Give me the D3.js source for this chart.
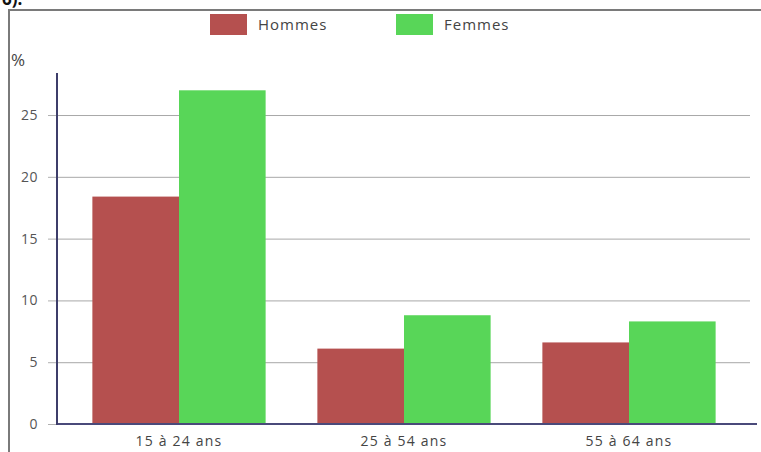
<!DOCTYPE html>
<html lang="fr">
<head>
<meta charset="UTF-8">
<title>Chômage par âge et sexe</title>
<style>
  body { margin: 0; background: #fff; }
  svg { display: block; font-family: "Open Sans", sans-serif; }
</style>
</head>
<body>
<div id="graphique"></div>
<script src="https://d3js.org/d3.v7.min.js"></script>
<script>

// données
let categories = ['15 à 24 ans', '25 à 54 ans', '55 à 64 ans'];
let series     = ['Hommes', 'Femmes'];
let hommes     = [18.4, 6.1, 6.6];
let femmes     = [27.0, 8.8, 8.3];
let yTicks     = [0, 5, 10, 15, 20, 25];
let couleurs   = ['#b5504f', '#58d658'];

let width = 761, height = 452;

let svg = d3.select('#graphique')
            .append('svg')
            .attr('width', width)
            .attr('height', height);

// bout de texte coupé en haut (comme dans l'original)
svg.append('text')
   .attr('x', 2).attr('y', 5)
   .attr('font-size', 17)
   .attr('font-weight', 'bold')
   .attr('fill', '#111')
   .text('6).');

// cadre
svg.append('path')
   .attr('d', 'M9,452 V10 H761')
   .attr('fill', 'none')
   .attr('stroke', '#7a7a7a')
   .attr('stroke-width', 2);

// echelles
let y = d3.scaleLinear()
          .domain([0, 28.4])
          .range([424, 73]);

let x0 = d3.scaleBand()
           .domain(categories)
           .range([66.5, 741.5])
           .paddingInner(0.23)
           .paddingOuter(0.115);

let x1 = d3.scaleBand()
           .domain(series)
           .range([0, x0.bandwidth()]);

// grille + graduations Y
let axeY = d3.axisLeft(y)
             .tickValues(yTicks)
             .tickSize(9)
             .tickPadding(10);

let gY = svg.append('g')
            .attr('transform', 'translate(57,0)')
            .call(axeY);
gY.select('.domain').remove();
gY.selectAll('line').attr('stroke', '#b0b0b0');
gY.selectAll('text')
  .attr('fill', '#555')
  .style('font-size', '14px')
  .style('letter-spacing', '0.5px')
  .style('font-family', '"Open Sans", sans-serif');

svg.append('g')
   .selectAll('line')
   .data(yTicks.filter(d => d > 0))
   .enter()
   .append('line')
   .attr('x1', 57).attr('x2', 750)
   .attr('y1', d => y(d) + 0.5).attr('y2', d => y(d) + 0.5)
   .attr('stroke', '#a8a8a8');

// barres
let groupes = svg.append('g')
   .selectAll('g')
   .data(categories)
   .enter()
   .append('g')
   .attr('transform', d => `translate(${x0(d)},0)`);

groupes.selectAll('rect')
   .data((d, i) => [
       { s: 'Hommes', v: hommes[i], c: couleurs[0] },
       { s: 'Femmes', v: femmes[i], c: couleurs[1] }
   ])
   .enter()
   .append('rect')
   .attr('x', d => x1(d.s))
   .attr('width', x1.bandwidth())
   .attr('y', d => y(d.v))
   .attr('height', d => y(0) - y(d.v))
   .attr('fill', d => d.c);

// axe X
let axeX = d3.axisBottom(x0).tickSize(0).tickPadding(12);
let gX = svg.append('g')
            .attr('transform', 'translate(0,424)')
            .call(axeX);
gX.select('.domain').remove();
gX.selectAll('text')
  .attr('fill', '#444')
  .style('font-size', '14px')
  .style('letter-spacing', '1.2px')
  .style('font-family', '"Open Sans", sans-serif');

svg.append('line')
   .attr('x1', 57).attr('x2', 757)
   .attr('y1', 424).attr('y2', 424)
   .attr('stroke', '#4a4a7a')
   .attr('stroke-width', 2);

svg.append('line')
   .attr('x1', 57).attr('x2', 57)
   .attr('y1', 73).attr('y2', 425)
   .attr('stroke', '#3d3d6a')
   .attr('stroke-width', 2);

// unité
svg.append('text')
   .attr('x', 11).attr('y', 66)
   .attr('fill', '#444')
   .style('font-size', '17px')
   .style('letter-spacing', '1px')
   .text('%');

// légende
let leg = svg.append('g')
   .selectAll('g')
   .data(series)
   .enter()
   .append('g')
   .attr('transform', (d, i) => `translate(${[210, 396][i]},14)`);

leg.append('rect')
   .attr('width', 37).attr('height', 21)
   .attr('fill', (d, i) => couleurs[i]);

leg.append('text')
   .attr('x', 48).attr('y', 16)
   .attr('fill', '#444')
   .style('font-size', '15px')
   .style('letter-spacing', '1px')
   .text(d => d);

</script>
</body>
</html>
